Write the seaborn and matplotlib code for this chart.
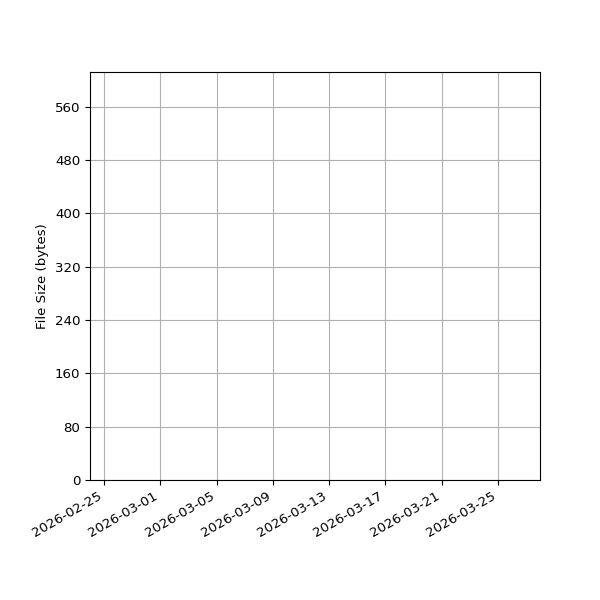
import pandas as pd
import matplotlib
matplotlib.use("Agg")
import matplotlib.pyplot as plt
import matplotlib.dates as mdates
import seaborn as sns

# Datos (la serie está vacía en el gráfico original)
dates = []
sizes = []
tick_dates = pd.date_range("2026-02-25", periods=8, freq="4D")
y_ticks = [0, 80, 160, 240, 320, 400, 480, 560]

plt.rcParams["font.size"] = 9.6

df = pd.DataFrame({"date": pd.to_datetime(dates), "size": pd.Series(sizes, dtype=float)})

fig, ax = plt.subplots(figsize=(6, 6), dpi=100)
sns.lineplot(data=df, x="date", y="size", ax=ax)

ax.set_xlim(pd.Timestamp("2026-02-24"), pd.Timestamp("2026-03-28"))
ax.set_ylim(0, 612)
ax.set_xticks(tick_dates)
ax.xaxis.set_major_formatter(mdates.DateFormatter("%Y-%m-%d"))
ax.set_yticks(y_ticks)
ax.grid(True)
ax.set_xlabel("")
ax.set_ylabel("File Size (bytes)")

fig.autofmt_xdate()
fig.subplots_adjust(left=0.15, right=0.9, top=0.88, bottom=0.2)
fig.savefig("out.png", dpi=100)
